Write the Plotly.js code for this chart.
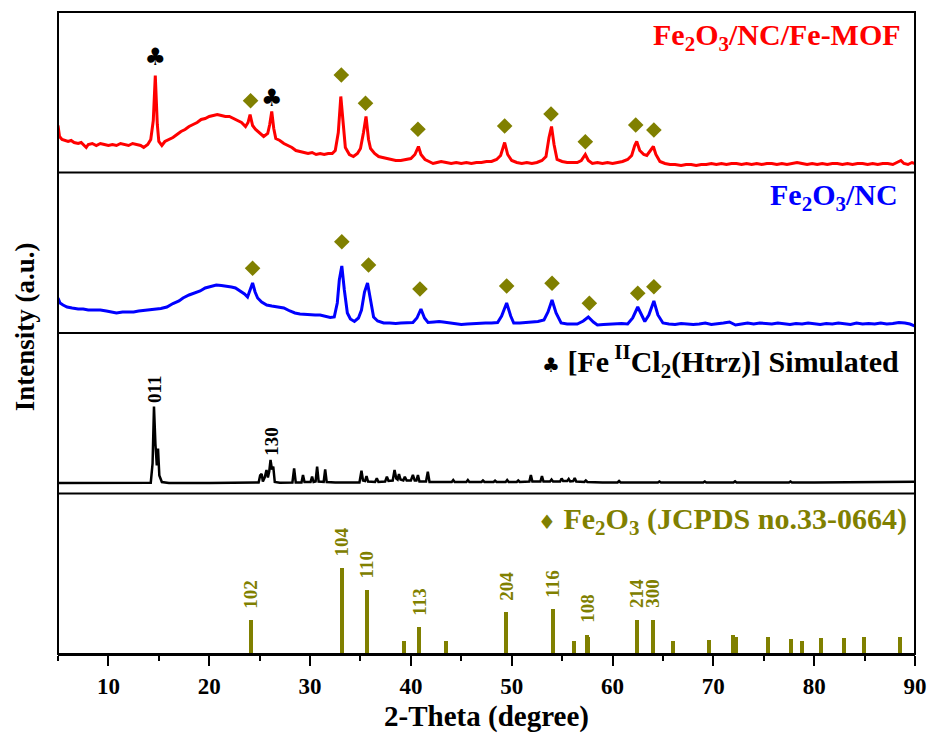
<!DOCTYPE html>
<html><head><meta charset="utf-8">
<script src="https://cdn.plot.ly/plotly-3.0.1.min.js"></script>
<style>html,body{margin:0;padding:0;background:#fff}#chart{width:928px;height:733px}</style>
</head><body><div id="chart"></div>
<script>
// ---- Panel 1: Fe2O3/NC/Fe-MOF (red) ----
const redX = [
5.0,5.15,5.4,5.7,6.0,6.3,6.6,7.0,7.3,7.6,7.8,
8.0,8.4,8.8,9.2,9.6,10.0,10.4,10.8,11.2,11.6,12.0,12.4,12.8,13.2,13.5,13.9,
14.2,14.45,14.65,14.85,15.0,15.3,15.6,
16.0,16.4,16.8,17.2,17.6,18.0,18.4,18.8,19.2,19.6,20.0,20.4,20.8,21.2,21.6,22.0,22.4,22.8,23.2,23.6,
23.85,24.05,24.3,24.6,25.0,25.4,25.8,26.0,26.2,26.4,26.6,
27.0,27.4,27.8,28.2,28.6,29.0,29.4,29.8,30.2,30.6,31.0,31.4,31.8,32.2,
32.5,32.8,33.05,33.3,33.5,33.9,34.3,34.7,35.0,35.3,35.55,35.8,36.0,
36.4,36.8,37.2,37.6,38.0,38.5,39.0,39.5,40.0,40.4,40.75,41.0,41.4,41.8,42.2,42.6,43.0,
43.5,44.0,44.5,45.0,45.5,46.0,46.5,47.0,47.5,48.0,48.5,
48.9,49.3,49.6,50.0,
50.5,51.0,51.5,52.0,52.5,53.0,
53.4,53.7,53.95,54.2,54.5,
55.0,55.5,56.0,56.5,
56.9,57.3,57.6,
58.0,58.5,59.0,59.5,60.0,60.5,61.0,61.5,
61.9,62.2,62.4,62.7,63.1,63.4,63.7,64.05,64.3,64.7,
65.2,65.7,66.2,
66.8,67.3,67.8,68.3,68.8,69.3,69.8,70.3,70.8,71.3,71.8,72.3,72.8,73.3,73.8,74.3,74.8,75.3,75.8,76.3,76.8,77.3,77.8,78.3,78.8,79.3,79.8,80.3,80.8,81.3,81.8,82.3,82.8,83.3,83.8,84.3,84.8,85.3,85.8,86.3,86.8,87.3,87.8,88.3,
88.6,88.9,89.3,89.7,90.0];
const redY = [
47,36,33,32,31,32,30,29,30,27,25,
28,29,27,29,28,27,28,27,29,28,27,29,28,27,25,28,
33,52,97,48,31,27,31,
33,35,38,41,43,46,48,50,53,54,56,57,58,57,56,56,54,52,50,46,
50,58,47,43,39,36,39,48,61,44,34,
32,29,27,25,22,21,20,19,20,18,19,18,19,19,
22,40,76,45,25,18,16,19,24,40,56,33,24,
19,16,15,14,13,12,12,13,14,18,26,18,13,11,9,10,11,
10,9,10,9,10,9,10,10,11,11,13,
17,30,18,12,
10,9,10,9,10,12,
16,35,46,28,13,
11,10,10,10,
12,18,12,
9,10,9,10,9,10,11,13,
17,27,31,22,18,17,21,26,18,11,
9,8,8,
7,8,8,7,8,8,9,8,9,8,9,9,8,9,8,9,8,9,9,8,9,8,9,10,9,8,9,8,9,8,9,9,8,9,8,9,9,8,9,8,9,9,8,10,
12,9,8,10,9];

// ---- Panel 2: Fe2O3/NC (blue) ----
const blueX = [
5.0,5.2,5.5,5.9,6.4,7.0,7.5,8.0,8.5,9.2,9.8,10.4,10.8,11.4,12.0,12.5,13.0,13.6,14.1,14.6,
15.2,15.8,16.4,17.0,17.4,18.0,18.6,19.1,19.6,20.2,20.7,21.2,21.7,22.2,22.6,23.1,23.5,23.8,
24.05,24.3,24.55,24.8,25.2,25.7,26.2,26.8,27.4,28.0,28.5,29.0,29.5,30.0,30.5,31.0,31.5,32.0,32.4,
32.7,32.9,33.15,33.4,33.7,34.0,34.4,34.8,35.1,35.4,35.7,36.0,36.3,36.7,
37.3,37.9,38.5,39.0,39.6,40.2,40.6,41.0,41.35,41.7,42.3,42.8,43.2,43.8,44.4,45.0,45.6,46.2,46.8,47.4,48.0,48.6,
49.0,49.5,49.9,50.2,50.8,51.4,52.0,52.6,53.2,53.6,54.0,54.4,54.9,55.5,56.0,56.5,57.1,57.6,58.1,58.5,
59.1,59.7,60.3,60.9,61.5,62.0,62.5,62.9,63.2,63.6,64.1,64.5,65.0,
65.6,66.2,66.8,67.4,68.0,68.6,69.2,69.8,70.4,71.0,71.6,72.2,72.8,73.4,74.0,74.6,75.2,75.8,76.4,77.0,77.6,
78.2,78.8,79.4,80.0,80.6,81.2,81.8,82.4,83.0,83.6,84.2,84.8,85.4,86.0,86.6,87.2,87.8,88.4,89.0,89.5,90.0];
const blueY = [
35,30,28,26,25,24,24,23,23,23,22,20.5,20,21,21,21,22,22.5,23,23.5,
24.5,26,29.5,32,35,38,40,42,45,47,48,47.5,47,46,45,42,39,36,
43,50,41,35,31,28,27,26,25,22,20,19,18.5,18,18,18,17,15.5,16,
30,53,67,43,20,14,11.5,15,23,41,50,33,16,12,
10,10,9.5,10,10,10.5,15,24,15,10.5,11,11.5,11,10,9,8.5,9,9.5,10,10,10,10.5,
17,30,17,10,10,10.5,11,11.5,13,21,33,20,10,9,9,9,12,16,11,8,
8.5,9,9,9.5,9,15,26,17,11.5,18,32,18,10,
9,8.5,9.5,9,8.5,9,10,8.5,9,10,11,8,9,10,9,10,9.5,9,10,9,8.5,
9.5,9,10,9,8.5,9.5,9,10,9,8.5,10,9,9.5,9,10,9,9.5,10.5,10,9,7];

// ---- Panel 3: [FeIICl2(Htrz)] simulated (black) ----
const simX = [
5.0,8.0,12.0,14.2,14.38,14.52,14.66,14.8,14.92,15.05,15.3,16.0,20.0,
24.6,24.9,25.05,25.2,25.32,25.5,25.68,25.82,25.95,26.08,26.22,26.35,26.5,27.0,
28.25,28.42,28.58,29.15,29.3,29.45,30.05,30.2,30.35,30.55,30.7,30.85,31.35,31.5,31.65,32.5,
34.9,35.1,35.25,35.45,35.6,35.75,36.45,36.62,36.78,37.45,37.62,37.78,
38.2,38.38,38.55,38.68,38.82,38.97,39.25,39.4,39.58,40.0,40.2,40.38,40.55,40.7,40.85,
41.5,41.68,41.85,43.0,44.05,44.2,44.35,45.5,45.65,45.8,47.0,47.15,47.3,48.2,48.35,48.5,
49.4,49.55,49.7,50.5,50.65,50.8,51.75,51.9,52.05,52.85,53.0,53.15,53.8,53.95,54.1,
54.8,54.95,55.1,55.5,55.65,55.8,56.1,56.25,56.4,57.2,57.35,57.5,59.0,60.5,60.65,60.8,
63.0,64.5,64.65,64.8,67.0,69.0,69.15,69.3,72.0,72.15,72.3,75.0,77.5,77.65,77.8,80.0,83.0,86.0,88.0,90.0];
const simY = [
10.5,10.5,10.8,10.8,30,87,50,28,45,18,11.5,10.5,10.5,
10.8,11,18,19.5,12,16,23.5,16,22,33.5,24,27,11.5,10.8,
11,25,11,11,18.5,11.5,11.5,16.8,11.5,12,26.8,12,11.5,24,11.5,11,
11,22.8,13,12.5,17.5,12,11.5,15.2,11.5,12,16.8,12.5,
13,23.5,15,14,19.5,14,13,16.8,13,13,18.5,13,13,18.5,12,
12,21.8,11.5,11.5,11.5,13.5,11.5,11.5,13.5,11.5,11.5,13,11.5,11.5,12.8,11.5,
11.5,13.5,11.5,11.5,13,11.5,12,18.5,12,12,17.5,12,12,14,12,
12,15,12.5,12.5,14.5,12,12.5,15.5,12,11.5,13,11.5,11,11,12.5,11,
11,11,12,11,11,11,12,11,11,12.2,11,11,11,12,11,11,11.3,11.3,11.5,11.8];

// ---- Panel 4: Fe2O3 JCPDS no.33-0664 stick pattern ----
const stickX = [24.14,33.15,35.61,39.28,40.85,43.52,49.48,54.09,56.15,57.43,57.59,62.45,64.02,66.03,69.6,71.94,72.26,75.43,77.73,78.76,80.7,82.94,84.91,88.54];
const stickY = [34.7,86.7,64.7,14,27.3,14,42.3,45.7,13.3,20,18,34.7,34.7,13.3,14.7,20,17.3,18,15.7,14,16.3,16.3,17.3,17.3];
const hklX = [24.14,33.15,35.61,40.85,49.48,54.09,57.5,62.45,64.02];
const hklY = [34.7,86.7,64.7,27.3,42.3,45.7,20,34.7,34.7];
const hklText = ['102','104','110','113','204','116','108','214','300'];

// simulated pattern reflection labels
const simLabX = [14.52,26.15];
const simLabY = [87,33.5];
const simLabText = ['011','130'];

// phase markers
const dia1X = [24.1,33.1,35.5,40.7,49.3,53.9,57.3,62.3,64.1];
const dia1Y = [71.8,97.5,69.2,43.2,46.5,58.5,30.8,47.5,42.5];
const dia2X = [24.3,33.15,35.8,40.9,49.5,54.0,57.7,62.5,64.1];
const dia2Y = [64.7,91.3,68,44,47,49.7,29.7,39.7,46.3];
const clubX = [14.65,26.2];
const clubY = [113.5,73];

const xTicks = [10,20,30,40,50,60,70,80,90];

[[redX,redY],[blueX,blueY],[simX,simY],[stickX,stickY],[hklX,hklY],[dia1X,dia1Y],[dia2X,dia2Y],[clubX,clubY]].forEach(function(p,i){
  if (p[0].length !== p[1].length) throw new Error('length mismatch in pair '+i+': '+p[0].length+' vs '+p[1].length);
});

const OLIVE = '#808000';
const SERIF = 'Liberation Serif, Times New Roman, serif';

const traces = [
  {x: redX, y: redY, xaxis:'x', yaxis:'y', type:'scatter', mode:'lines', line:{color:'#ff0000', width:3}, hoverinfo:'skip'},
  {x: blueX, y: blueY, xaxis:'x', yaxis:'y2', type:'scatter', mode:'lines', line:{color:'#0000ff', width:3}, hoverinfo:'skip'},
  {x: simX, y: simY, xaxis:'x', yaxis:'y3', type:'scatter', mode:'lines', line:{color:'#000000', width:2.5}, hoverinfo:'skip'},
  {x: stickX, y: stickY, xaxis:'x', yaxis:'y4', type:'bar', width:0.4, marker:{color:OLIVE, line:{width:0}}, hoverinfo:'skip'},
  {x: dia1X, y: dia1Y, xaxis:'x', yaxis:'y', type:'scatter', mode:'markers', marker:{symbol:'diamond', size:12, color:OLIVE}, hoverinfo:'skip'},
  {x: dia2X, y: dia2Y, xaxis:'x', yaxis:'y2', type:'scatter', mode:'markers', marker:{symbol:'diamond', size:12, color:OLIVE}, hoverinfo:'skip'},
  {x: clubX, y: clubY, xaxis:'x', yaxis:'y', type:'scatter', mode:'text', text: clubX.map(function(){return '\u2663';}), textposition:'middle center', textfont:{family:'DejaVu Sans', size:24, color:'#000'}, hoverinfo:'skip'}
];

const annotations = [];
hklX.forEach(function(x,i){
  annotations.push({x:x, y:hklY[i], xref:'x', yref:'y4', text:hklText[i], textangle:-90, showarrow:false,
    xanchor:'center', yanchor:'bottom', yshift:9, font:{family:SERIF, size:19, color:OLIVE, weight:'bold'}});
});
simLabX.forEach(function(x,i){
  annotations.push({x:x, y:simLabY[i], xref:'x', yref:'y3', text:simLabText[i], textangle:-90, showarrow:false,
    xanchor:'center', yanchor:'bottom', yshift:2, font:{family:SERIF, size:19, color:'#000', weight:'bold'}});
});
// panel labels
annotations.push({xref:'paper', yref:'paper', x:1, y:0.961, xanchor:'right', yanchor:'middle', xshift:-12, showarrow:false,
  text:'Fe<sub>2</sub>O<sub>3</sub>/NC/Fe-MOF', font:{family:SERIF, size:30, color:'#ff0000', weight:'bold'}});
annotations.push({xref:'paper', yref:'paper', x:1, y:0.712, xanchor:'right', yanchor:'middle', xshift:-15, showarrow:false,
  text:'Fe<sub>2</sub>O<sub>3</sub>/NC', font:{family:SERIF, size:30, color:'#0000ff', weight:'bold'}});
annotations.push({xref:'paper', yref:'paper', x:1, y:0.455, xanchor:'right', yanchor:'middle', xshift:-14, showarrow:false,
  text:'<span style="font-family:\'DejaVu Sans\';font-size:20px">\u2663</span> [Fe<sup> II</sup>Cl<sub>2</sub>(Htrz)] Simulated', font:{family:SERIF, size:30, color:'#000', weight:'bold'}});
annotations.push({xref:'paper', yref:'paper', x:1, y:0.207, xanchor:'right', yanchor:'middle', xshift:-6, showarrow:false,
  text:'<span style="font-family:\'DejaVu Sans\';font-size:20px">\u2666</span> Fe<sub>2</sub>O<sub>3</sub> (JCPDS no.33-0664)', font:{family:SERIF, size:30, color:OLIVE, weight:'bold'}});
// y title
annotations.push({xref:'paper', yref:'paper', x:-0.0385, y:0.509, xanchor:'center', yanchor:'middle', textangle:-90, showarrow:false,
  text:'Intensity (a.u.)', font:{family:SERIF, size:27, color:'#000', weight:'bold'}});

function yax(domain){
  return {domain:domain, range:[0,160.5], visible:false, fixedrange:true, showgrid:false, zeroline:false};
}

const layout = {
  width:928, height:733,
  margin:{l:58, r:13, t:12, b:79},
  paper_bgcolor:'#fff', plot_bgcolor:'#fff',
  showlegend:false,
  font:{family:SERIF, size:19, color:'#000'},
  xaxis:{range:[5,90], domain:[0,1], anchor:'y4', fixedrange:true,
    showline:true, linewidth:2, linecolor:'#000', showgrid:false, zeroline:false,
    ticks:'outside', ticklen:10, tickwidth:2, tickcolor:'#000',
    tickmode:'array', tickvals:xTicks, ticktext:xTicks.map(String),
    minor:{tick0:0, dtick:5, ticks:'outside', ticklen:5, tickwidth:2, tickcolor:'#000', showgrid:false},
    tickfont:{family:SERIF, size:23, color:'#000', weight:'bold'},
    title:{text:'2-Theta (degree)', font:{family:SERIF, size:29, color:'#000', weight:'bold'}, standoff:8}},
  yaxis:yax([0.75,1]),
  yaxis2:yax([0.5,0.75]),
  yaxis3:yax([0.25,0.5]),
  yaxis4:yax([0,0.25]),
  bargap:0,
  shapes:[
    {type:'rect', xref:'paper', yref:'paper', x0:0, x1:1, y0:0, y1:1, line:{color:'#000', width:2}, layer:'above'},
    {type:'line', xref:'paper', yref:'paper', x0:0, x1:1, y0:0.25, y1:0.25, line:{color:'#000', width:2}, layer:'above'},
    {type:'line', xref:'paper', yref:'paper', x0:0, x1:1, y0:0.5, y1:0.5, line:{color:'#000', width:2}, layer:'above'},
    {type:'line', xref:'paper', yref:'paper', x0:0, x1:1, y0:0.75, y1:0.75, line:{color:'#000', width:2}, layer:'above'}
  ],
  annotations:annotations
};

Plotly.newPlot('chart', traces, layout, {displayModeBar:false});
</script></body></html>
